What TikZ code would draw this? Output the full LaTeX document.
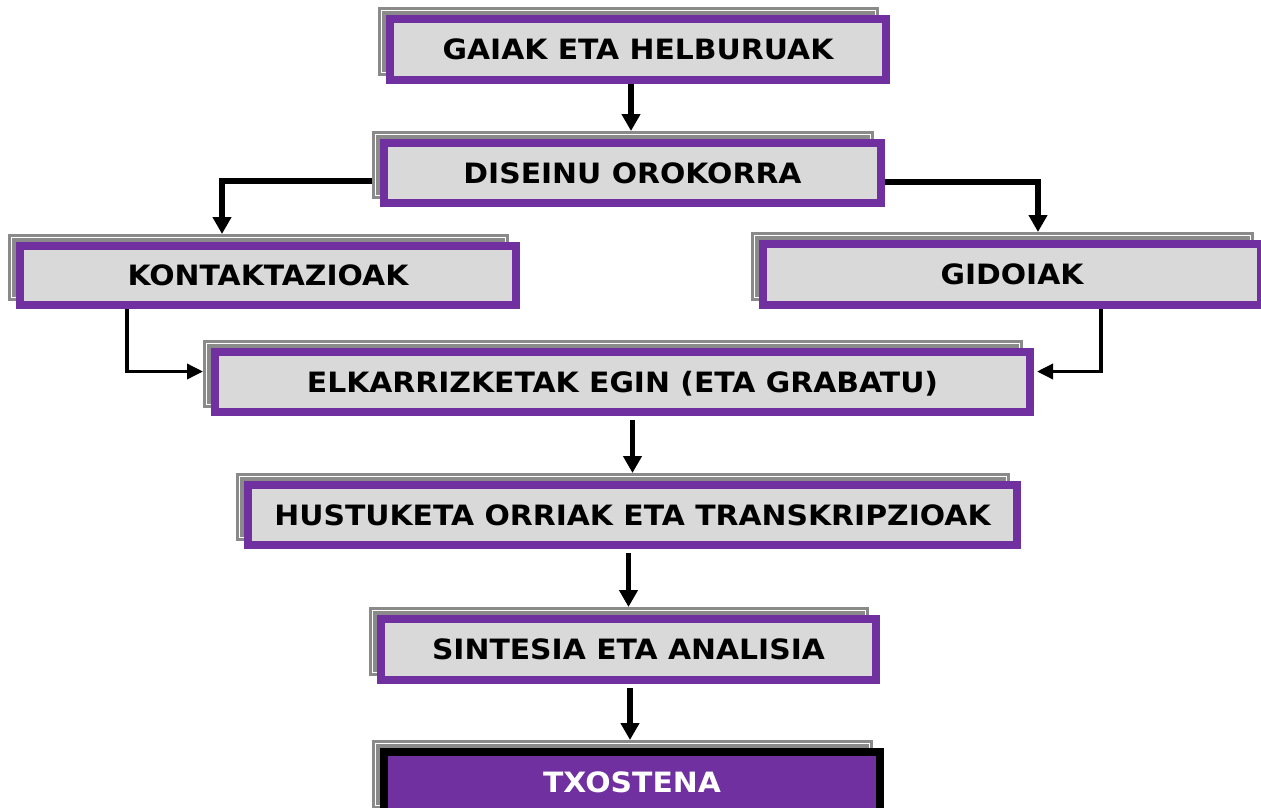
\documentclass[tikz,border=0pt]{standalone}
\usepackage{fontspec}
\newfontfamily\boxfont{DejaVu Sans}[FakeStretch=1.065]
\usetikzlibrary{arrows.meta,calc}
\definecolor{vpurple}{HTML}{7030A0}
\definecolor{vgray}{HTML}{D9D9D9}
\definecolor{sgray}{HTML}{8A8A8A}
\tikzset{
  mainbox/.style={draw=vpurple, line width=8pt, fill=vgray, inner sep=0pt,
    font=\boxfont\bfseries\fontsize{28}{32}\selectfont, text=black,
    text height=20pt, text depth=0pt},
  finalbox/.style={mainbox, draw=black, fill=vpurple, text=white},
  shbox/.style={fill=sgray, inner sep=0pt, outer sep=0pt},
  shline/.style={draw=white, line width=1pt},
  conn/.style={line width=5.5pt, -{Triangle[length=17pt,width=18pt]}},
  thinconn/.style={line width=3.5pt, -{Triangle[length=16pt,width=15pt]}},
}
% #1 style, #2 name, #3 x1, #4 y1, #5 x2, #6 y2 (outer edges), #7 text
\newcommand\mybox[7]{%
  \node[shbox, minimum width={#5-#3-3}, minimum height={#6-#4}] (#2s)
    at ({(#3+#5)/2-9.5},{(#4+#6)/2-8}) {};
  \draw[shline] ([shift={(3.5,3.5)}]#2s.north west) rectangle ([shift={(-3.5,-3.5)}]#2s.south east);
  \node[#1, minimum width={#5-#3-8}, minimum height={#6-#4-8}] (#2)
    at ({(#3+#5)/2},{(#4+#6)/2}) {#7};
}
\begin{document}
\begin{tikzpicture}[x=1pt,y=-1pt]
\useasboundingbox (0,0) rectangle (1261,807);
\clip (0,0) rectangle (1261,807);

\mybox{mainbox}{b1}{386}{15}{890}{84}{GAIAK ETA HELBURUAK}
\mybox{mainbox}{b2}{380}{139}{885}{207}{DISEINU OROKORRA}
\mybox{mainbox}{b3}{16}{242}{520}{309}{KONTAKTAZIOAK}
\mybox{mainbox}{b4}{759}{240}{1265}{309}{GIDOIAK}
\mybox{mainbox}{b5}{211}{348}{1034}{416}{ELKARRIZKETAK EGIN (ETA GRABATU)}
\mybox{mainbox}{b6}{244}{481}{1021}{549}{HUSTUKETA ORRIAK ETA TRANSKRIPZIOAK}
\mybox{mainbox}{b7}{377}{615}{880}{684}{SINTESIA ETA ANALISIA}
\mybox{finalbox}{b8}{380}{748}{884}{817}{TXOSTENA}

% connectors
\draw[conn] ([xshift=-7pt]b1.south) -- ([xshift=-7pt]b1.south |- b2s.north);
\draw[conn] ([yshift=-8pt]b2.west -| b2s.west) -| ([xshift=-46pt]b3.north |- b3s.north);
\draw[conn] ([yshift=-9pt]b2.east) -| ([xshift=26pt]b4.north |- b4s.north);
\draw[thinconn] ([xshift=-141pt]b3.south) |- ([yshift=2.5pt]b5s.west);
\draw[thinconn] ([xshift=89pt]b4.south) |- ([xshift=3pt,yshift=10.5pt]b5.east);
\draw[conn] ([xshift=10pt,yshift=-4pt]b5.south) -- ([xshift=10pt]b5.south |- b6s.north);
\draw[conn] ([xshift=-4pt,yshift=-4pt]b6.south) -- ([xshift=-4pt]b6.south |- b7s.north);
\draw[conn] ([xshift=1.5pt,yshift=-4pt]b7.south) -- ([xshift=1.5pt]b7.south |- b8s.north);
\end{tikzpicture}
\end{document}
